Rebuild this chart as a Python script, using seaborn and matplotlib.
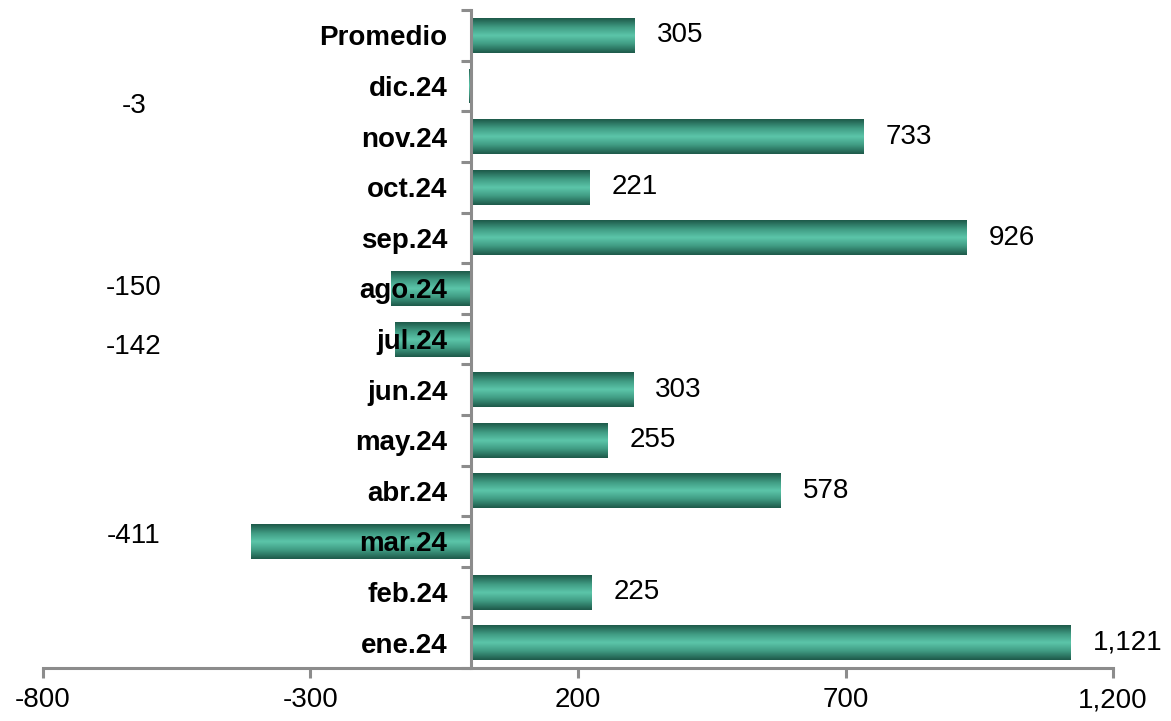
import numpy as np
import matplotlib
matplotlib.use("Agg")
import matplotlib.pyplot as plt
import seaborn as sns
from matplotlib.colors import LinearSegmentedColormap
from matplotlib.ticker import FuncFormatter, FixedLocator

sns.set_theme(style="white")
plt.rcParams['font.family'] = ['Liberation Sans', 'DejaVu Sans']

months = ['Promedio', 'dic.24', 'nov.24', 'oct.24', 'sep.24', 'ago.24', 'jul.24',
          'jun.24', 'may.24', 'abr.24', 'mar.24', 'feb.24', 'ene.24']
values = [305, -3, 733, 221, 926, -150, -142, 303, 255, 578, -411, 225, 1121]
x_ticks = [-800, -300, 200, 700, 1200]

# negative labels sit in a column on the left (as in the original)
neg_label_x = -630
neg_label_nudge = {'dic.24': 0.4, 'jul.24': 0.15, 'mar.24': -0.1}

fig = plt.figure(figsize=(11.71, 7.21), dpi=100)
ax = fig.add_axes([0.0367, 0.0735, 0.9138, 0.9125])

sns.barplot(x=values, y=months, orient='h', color='#3a9a80', width=0.69, ax=ax)

# vertical gradient fill: dark edges, light centre
grad = LinearSegmentedColormap.from_list('teal', ['#1e5a4a', '#3f9a82', '#5cc6aa',
                                                   '#3f9a82', '#1e5a4a'])
g = np.linspace(0, 1, 64).reshape(-1, 1)
for p in ax.patches:
    x0, y0 = p.get_x(), p.get_y()
    w, h = p.get_width(), p.get_height()
    p.set_facecolor('none')
    p.set_edgecolor('none')
    im = ax.imshow(g, cmap=grad, aspect='auto', extent=[x0, x0 + w, y0 + h, y0],
                   interpolation='bicubic', zorder=2)
    im.set_clip_path(p)

ax.set_xlim(-800, 1200)
ax.set_ylim(12.5, -0.5)

for i, (m, v) in enumerate(zip(months, values)):
    if v >= 0:
        ax.annotate(f'{v:,}', xy=(v, i), xytext=(16, 0), textcoords='offset points',
                    ha='left', va='center', fontsize=20, color='black')
    else:
        ax.text(neg_label_x, i + neg_label_nudge.get(m, 0), f'{v:,}',
                ha='center', va='center', fontsize=20, color='black')

# axes styling
ax.set_axisbelow(False)
for s in ['top', 'right']:
    ax.spines[s].set_visible(False)
ax.spines['left'].set_position(('data', 0))
for s in ['left', 'bottom']:
    ax.spines[s].set_color('#8c8c8c')
    ax.spines[s].set_linewidth(2.2)
    ax.spines[s].set_zorder(3)

ax.xaxis.set_major_locator(FixedLocator(x_ticks))
ax.xaxis.set_major_formatter(FuncFormatter(lambda v, _: f'{int(v):,}'))
ax.tick_params(axis='x', direction='out', length=7, width=2.2, color='#8c8c8c',
               labelsize=20, labelcolor='black', pad=7, bottom=True)
ax.set_yticks(np.arange(-0.5, 13, 1), minor=True)
ax.tick_params(axis='y', which='minor', direction='out', length=7, width=2.2,
               color='#8c8c8c', left=True)
ax.tick_params(axis='y', which='major', length=0, pad=17, labelsize=20,
               labelcolor='black')
for t in ax.get_yticklabels():
    t.set_fontweight('bold')
ax.set_xlabel('')
ax.set_ylabel('')
ax.grid(False)

fig.savefig('out.png', dpi=100)
